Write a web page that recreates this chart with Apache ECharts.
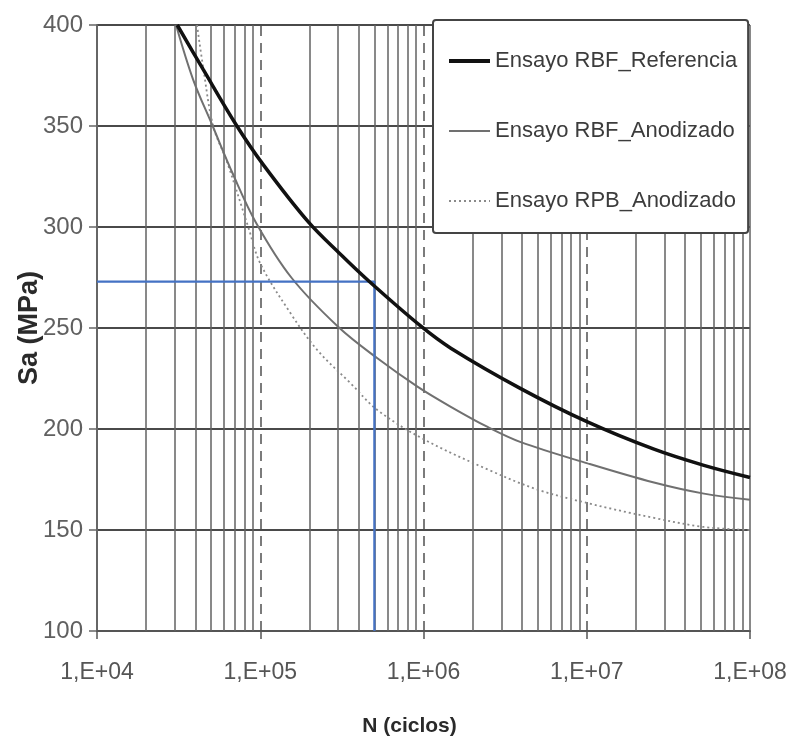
<!DOCTYPE html>
<html><head><meta charset="utf-8">
<script src="https://cdn.jsdelivr.net/npm/echarts@6/dist/echarts.min.js"></script>
<style>html,body{margin:0;padding:0;background:#fff}#c{width:787px;height:742px}</style>
</head><body><div id="c"></div>
<script>
// ---- axis / tick definitions ----
const yMin = 100, yMax = 400, yStep = 50;
const xMin = 1e4, xMax = 1e8;
const decadeLines = [1e5, 1e6, 1e7];          // dashed grid lines
const gridDecades = [1e4, 1e5, 1e6, 1e7];     // decades carrying minor grid lines
const minorMult = [2, 3, 4, 5, 6, 7, 8, 9];

// ---- series data (N cycles, Sa MPa) ----
const refName = 'Ensayo RBF_Referencia';
const refN  = [31000, 44700, 71300, 104000, 197000, 310000, 473000, 960000, 1470000, 3940000, 10100000, 25800000, 52200000, 100000000];
const refSa = [400,   378,   350.5, 331,    302.5,  286.5,  272.5,  251,    240,     220,     203.5,    190,      182,      176];

const anoName = 'Ensayo RBF_Anodizado';
const anoN  = [30500, 38800, 50800, 68200, 94400, 155000, 301000, 522000, 918000, 1470000, 2470000, 3940000, 10100000, 25800000, 52200000, 100000000];
const anoSa = [400,   373,   350.5, 326,   302,   275,    250.5,  235,    221,    211,     201,     193.5,   183,      173.5,    168,      165];

const rpbName = 'Ensayo RPB_Anodizado';
const rpbN  = [41000, 44700, 51500, 62700, 84400, 100000, 153000, 224000, 357000, 522000, 1000000, 2470000, 5000000, 10000000, 25800000, 52200000, 100000000];
const rpbSa = [400,   379,   350,   332,   300,   282,    257.4,  239,    222.7,  209.4,  195,     180,     170,     163.4,    156,      151.5,    150];

// reference marker (blue lines)
const markN = 5e5, markSa = 273;

const zip = (a, b) => a.map((v, i) => [v, b[i]]);
const FONT = "'Liberation Sans',Arial,sans-serif";

const minorVals = [];
gridDecades.forEach(d => minorMult.forEach(m => minorVals.push(d * m)));
minorVals.push(xMax);

const markData = minorVals.map(v => ({ xAxis: v, lineStyle: { color: '#626262', width: 1.5, type: 'solid' } }))
  .concat(decadeLines.map(v => ({ xAxis: v, lineStyle: { color: '#505050', width: 1.5, type: [10, 7] } })));

const chart = echarts.init(document.getElementById('c'), null, { renderer: 'canvas' });
chart.setOption({
  animation: false,
  backgroundColor: '#fff',
  grid: { left: 97, right: 37, top: 25, bottom: 111, containLabel: false, outerBoundsMode: 'none' },
  legend: {
    data: [
      { name: refName, lineStyle: { width: 4, color: '#111' } },
      { name: anoName, lineStyle: { width: 2, color: '#707070' } },
      { name: rpbName, lineStyle: { width: 1.8, color: '#8a8a8a', type: [2, 3] } }
    ],
    orient: 'vertical',
    left: 433, top: 20,
    padding: [30, 11, 21, 14],
    itemWidth: 41, itemHeight: 23, itemGap: 48,
    itemStyle: { opacity: 0 },
    backgroundColor: '#fff',
    borderColor: '#444', borderWidth: 2, borderRadius: 3,
    textStyle: { fontFamily: FONT, fontSize: 22, color: '#3c3c3c' },
    z: 10
  },
  xAxis: {
    type: 'log', logBase: 10, min: xMin, max: xMax,
    name: 'N (ciclos)', nameLocation: 'middle', nameGap: 85, nameMoveOverlap: false,
    nameTextStyle: { fontFamily: FONT, fontWeight: 'bold', fontSize: 21, color: '#2a2a2a', padding: [0, 28, 0, 0] },
    axisLine: { show: true, lineStyle: { color: '#555', width: 2 } },
    axisTick: { show: true, length: 8, lineStyle: { color: '#555', width: 1.5 } },
    axisLabel: { fontFamily: FONT, fontSize: 23, color: '#555', margin: 30,
      formatter: v => '1,E+' + String(Math.round(Math.log10(v))).padStart(2, '0') },
    splitLine: { show: false }
  },
  yAxis: {
    type: 'value', min: yMin, max: yMax, interval: yStep,
    name: 'Sa (MPa)', nameLocation: 'middle', nameGap: 54, nameMoveOverlap: false,
    nameTextStyle: { fontFamily: FONT, fontWeight: 'bold', fontSize: 27, color: '#2a2a2a' },
    axisLine: { show: true, lineStyle: { color: '#666', width: 2 } },
    axisTick: { show: true, length: 8, lineStyle: { color: '#666', width: 1.5 } },
    axisLabel: { fontFamily: FONT, fontSize: 24, color: '#606060', margin: 14 },
    splitLine: { show: true, lineStyle: { color: '#4a4a4a', width: 2 } }
  },
  series: [
    { name: 'grid', type: 'line', data: [], silent: true, z: 1,
      markLine: { silent: true, z: 1, symbol: 'none', label: { show: false }, animation: false, data: markData } },
    { name: rpbName, type: 'line', data: zip(rpbN, rpbSa), symbol: 'none', smooth: 0.35, z: 4,
      lineStyle: { color: '#8a8a8a', width: 1.8, type: [2, 3] }, itemStyle: { color: '#8a8a8a' } },
    { name: anoName, type: 'line', data: zip(anoN, anoSa), symbol: 'none', smooth: 0.35, z: 5,
      lineStyle: { color: '#707070', width: 2 }, itemStyle: { color: '#707070' } },
    { name: 'marker', type: 'line', data: [[xMin, markSa], [markN, markSa], [markN, yMin]],
      symbol: 'none', silent: true, z: 7, lineStyle: { color: '#4472c4', width: 2.2 } },
    { name: refName, type: 'line', data: zip(refN, refSa), symbol: 'none', smooth: 0.35, z: 8,
      lineStyle: { color: '#111', width: 3.5 }, itemStyle: { color: '#111' } }
  ]
});
</script></body></html>
